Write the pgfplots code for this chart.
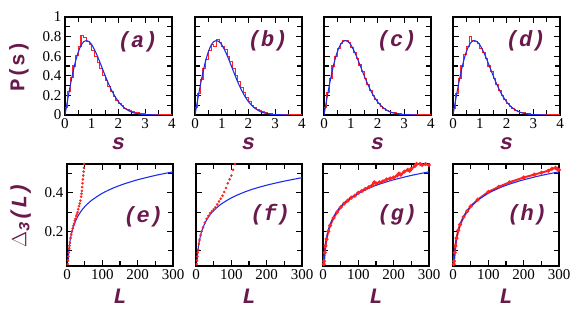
\documentclass[border=0pt]{standalone}
\usepackage{pgfplots}
\pgfplotsset{compat=1.18}
\usepackage{pgfplotstable}
\usepackage{fontspec}
\setmainfont{Liberation Serif}
\newfontfamily\monofont{Liberation Mono}
\definecolor{labc}{RGB}{105,25,75}
\definecolor{myblue}{RGB}{30,45,235}
\definecolor{myred}{RGB}{255,35,35}
\newcommand\lab[1]{{\color{labc}\fontsize{22}{22}\selectfont\monofont\bfseries\itshape #1}}
\newcommand\labup[1]{{\color{labc}\fontsize{21}{21}\selectfont\monofont\bfseries #1}}

\pgfplotstableread{
s P
0 0
0.1 0.1559
0.2 0.3044
0.3 0.4391
0.4 0.5541
0.5 0.6454
0.6 0.7104
0.7 0.7484
0.8 0.7602
0.9 0.7483
1.0 0.7162
1.1 0.6680
1.2 0.6083
1.3 0.5416
1.4 0.4717
1.5 0.4025
1.6 0.3365
1.7 0.2759
1.8 0.2220
1.9 0.1752
2.0 0.1358
2.2 0.0772
2.4 0.0409
2.6 0.0202
2.8 0.0093
3.0 0.0040
3.5 0.0004
}\wigner

\pgfplotstableread{
s P
0 0.08
0.1 0.24
0.2 0.38
0.3 0.50
0.4 0.61
0.5 0.70
0.6 0.81
0.7 0.79
0.8 0.75
0.9 0.72
1.0 0.66
1.1 0.60
1.2 0.54
1.3 0.47
1.4 0.40
1.5 0.35
1.6 0.29
1.7 0.24
1.8 0.19
1.9 0.15
2.0 0.12
2.1 0.095
2.2 0.07
2.3 0.055
2.4 0.045
2.5 0.035
2.6 0.028
2.7 0.02
2.8 0.015
2.9 0.012
3.0 0.009
3.2 0.005
3.4 0.003
3.6 0.001
4.0 0.001
}\hista

\pgfplotstableread{
s P
0 0.08
0.1 0.22
0.2 0.36
0.3 0.47
0.4 0.57
0.5 0.66
0.6 0.72
0.7 0.70
0.8 0.77
0.9 0.74
1.0 0.70
1.1 0.67
1.2 0.60
1.3 0.55
1.4 0.47
1.5 0.40
1.6 0.34
1.7 0.28
1.8 0.23
1.9 0.18
2.0 0.14
2.1 0.10
2.2 0.08
2.3 0.06
2.4 0.045
2.5 0.033
2.6 0.024
2.7 0.017
2.8 0.012
2.9 0.009
3.0 0.006
3.2 0.004
3.4 0.002
3.6 0.001
4.0 0.001
}\histb

\pgfplotstableread{
s P
0 0.08
0.1 0.23
0.2 0.37
0.3 0.50
0.4 0.60
0.5 0.68
0.6 0.73
0.7 0.76
0.8 0.76
0.9 0.74
1.0 0.69
1.1 0.64
1.2 0.58
1.3 0.51
1.4 0.44
1.5 0.37
1.6 0.31
1.7 0.25
1.8 0.20
1.9 0.16
2.0 0.12
2.1 0.09
2.2 0.07
2.3 0.05
2.4 0.04
2.5 0.03
2.6 0.022
2.7 0.016
2.8 0.011
2.9 0.008
3.0 0.006
3.2 0.004
3.4 0.002
3.6 0.001
4.0 0.001
}\histc

\pgfplotstableread{
s P
0 0.07
0.1 0.22
0.2 0.37
0.3 0.50
0.4 0.62
0.5 0.70
0.6 0.80
0.7 0.76
0.8 0.75
0.9 0.73
1.0 0.68
1.1 0.64
1.2 0.58
1.3 0.50
1.4 0.44
1.5 0.37
1.6 0.31
1.7 0.25
1.8 0.20
1.9 0.16
2.0 0.12
2.1 0.09
2.2 0.07
2.3 0.05
2.4 0.04
2.5 0.03
2.6 0.022
2.7 0.016
2.8 0.011
2.9 0.008
3.0 0.006
3.2 0.004
3.4 0.002
3.6 0.001
4.0 0.001
}\histd

\pgfplotstableread{
L D
3 0.0427
4 0.0718
5 0.0944
7 0.1285
10 0.1647
15 0.2057
20 0.2349
30 0.2759
40 0.3051
50 0.3277
70 0.3618
100 0.3979
130 0.4245
160 0.4455
200 0.4681
250 0.4907
300 0.5092
}\goe

\pgfplotstableread{
L D
3 0.040
4 0.068
5 0.089
7 0.121
10 0.155
15 0.194
20 0.221
30 0.259
40 0.287
50 0.308
70 0.340
100 0.374
130 0.399
160 0.419
200 0.440
250 0.461
300 0.479
}\goef

\pgfplotstableread{
L D
2 0.03
3 0.05
4 0.07
5 0.09
6 0.11
7 0.125
8 0.14
10 0.165
12 0.185
14 0.20
16 0.215
18 0.23
20 0.24
22 0.255
24 0.265
26 0.28
28 0.29
30 0.30
32 0.315
34 0.33
36 0.345
38 0.36
40 0.38
41 0.395
42 0.41
43 0.43
44 0.45
45 0.47
46 0.49
47 0.51
48 0.53
49 0.55
}\dele

\pgfplotstableread{
L D
2 0.03
3 0.05
4 0.07
5 0.09
6 0.105
8 0.135
10 0.155
13 0.18
16 0.20
20 0.22
25 0.245
30 0.265
35 0.28
40 0.295
45 0.305
50 0.315
55 0.325
60 0.34
65 0.355
70 0.37
75 0.385
80 0.405
85 0.425
90 0.45
95 0.47
100 0.49
105 0.52
110 0.55
}\delf

\pgfplotstableread{
L D
2 0.03
3 0.045
5 0.09
7 0.125
10 0.16
15 0.20
20 0.23
30 0.27
40 0.30
50 0.325
60 0.345
70 0.36
80 0.375
90 0.385
100 0.40
110 0.41
120 0.42
130 0.43
140 0.44
145 0.455
150 0.45
160 0.455
170 0.46
180 0.47
190 0.475
200 0.48
210 0.49
215 0.50
220 0.495
230 0.51
240 0.52
245 0.515
250 0.525
260 0.54
265 0.55
270 0.555
275 0.55
280 0.545
290 0.55
300 0.545
}\delg

\pgfplotstableread{
L D
2 0.03
3 0.045
5 0.09
7 0.125
10 0.165
15 0.205
20 0.235
30 0.275
40 0.305
50 0.33
70 0.365
100 0.405
130 0.432
160 0.455
200 0.48
230 0.495
250 0.505
270 0.515
280 0.525
290 0.53
295 0.525
300 0.52
}\delh

\pgfplotsset{
  base/.style={scale only axis, anchor=south west,
    axis line style={line width=1.3pt},
    every tick/.style={black, line width=1.1pt},
    tick align=inside, major tick length=6pt, minor tick length=5pt,
    ticklabel style={font=\fontsize{15}{15}\selectfont},
    /pgf/number format/assume math mode=true,
    xlabel shift=2pt, ylabel shift=7pt},
  toprow/.style={base, width=107pt, height=98pt,
    xmin=0, xmax=4, ymin=0, ymax=1,
    xtick={0,1,2,3,4}, minor xtick={0.5,1.5,2.5,3.5},
    ytick={0,0.2,0.4,0.6,0.8,1}, minor ytick={0.1,0.3,0.5,0.7,0.9},
    xlabel={\lab{s}}},
  botrow/.style={base, width=106pt, height=102pt,
    xmin=0, xmax=300, ymin=0.02, ymax=0.55,
    xtick={0,100,200,300}, minor xtick={50,150,250},
    ytick={0.2,0.4}, minor ytick={0.1,0.3,0.5},
    xlabel={\lab{L}}},
  noylab/.style={yticklabel style={opacity=0}},
  histo/.style={myred, line width=1.1pt, const plot, no marks},
  wig/.style={myblue, line width=1.1pt, smooth, no marks},
  dots/.style={only marks, mark=*, mark size=1.1pt, myred},
  redl/.style={myred, line width=2pt, mark=*, mark size=0.8pt},
}

\begin{document}
\begin{tikzpicture}
\path[use as bounding box] (0,0) rectangle (581pt,317pt);
% top row
\begin{axis}[toprow, at={(65pt,202pt)}, ylabel={\labup{P(s)}}]
\addplot[histo] table[x=s,y=P] {\hista};
\addplot[wig] table[x=s,y=P] {\wigner};
\node at (rel axis cs:0.68,0.745) {\lab{(a)}};
\end{axis}
\begin{axis}[toprow, at={(195pt,202pt)}, noylab]
\addplot[histo] table[x=s,y=P] {\histb};
\addplot[wig] table[x=s,y=P] {\wigner};
\node at (rel axis cs:0.68,0.76) {\lab{(b)}};
\end{axis}
\begin{axis}[toprow, at={(324pt,202pt)}, noylab]
\addplot[histo] table[x=s,y=P] {\histc};
\addplot[wig] table[x=s,y=P] {\wigner};
\node at (rel axis cs:0.68,0.76) {\lab{(c)}};
\end{axis}
\begin{axis}[toprow, at={(453pt,202pt)}, noylab]
\addplot[histo] table[x=s,y=P] {\histd};
\addplot[wig] table[x=s,y=P] {\wigner};
\node at (rel axis cs:0.68,0.76) {\lab{(d)}};
\end{axis}
% bottom row
\begin{axis}[botrow, at={(67pt,51pt)}, ylabel={\lab{$\Delta$\textsubscript{3}(L)}}]
\addplot[dots] table[x=L,y=D] {\dele};
\addplot[wig] table[x=L,y=D] {\goe};
\node at (rel axis cs:0.72,0.48) {\lab{(e)}};
\end{axis}
\begin{axis}[botrow, at={(196pt,51pt)}, noylab]
\addplot[dots] table[x=L,y=D] {\delf};
\addplot[wig] table[x=L,y=D] {\goef};
\node at (rel axis cs:0.70,0.50) {\lab{(f)}};
\end{axis}
\begin{axis}[botrow, at={(323pt,51pt)}, noylab]
\addplot[redl] table[x=L,y=D] {\delg};
\addplot[wig] table[x=L,y=D] {\goe};
\node at (rel axis cs:0.70,0.50) {\lab{(g)}};
\end{axis}
\begin{axis}[botrow, at={(453pt,51pt)}, noylab]
\addplot[redl] table[x=L,y=D] {\delh};
\addplot[wig] table[x=L,y=D] {\goe};
\node at (rel axis cs:0.70,0.50) {\lab{(h)}};
\end{axis}
\end{tikzpicture}
\end{document}
